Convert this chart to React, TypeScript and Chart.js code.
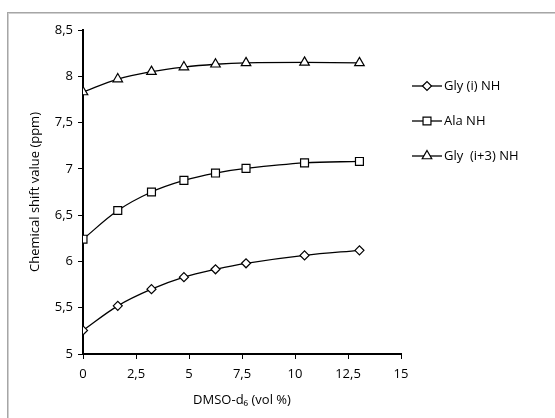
import React, { useEffect, useRef } from "react";
import { Chart, registerables } from "chart.js";
import { drawPoint } from "chart.js/helpers";

Chart.register(...registerables);

const dmsoPercent = [0, 1.64, 3.23, 4.76, 6.25, 7.69, 10.45, 13.04];
const glyINH = [5.255, 5.52, 5.7, 5.83, 5.915, 5.98, 6.065, 6.12];
const alaNH = [6.24, 6.55, 6.75, 6.875, 6.955, 7.005, 7.065, 7.08];
const glyI3NH = [7.83, 7.97, 8.05, 8.1, 8.13, 8.145, 8.15, 8.145];
const seriesLabels = ["Gly (i) NH", "Ala NH", "Gly  (i+3) NH"];
const xTitle = "DMSO-d\u2086 (vol %)";
const yTitle = "Chemical shift value (ppm)";

const FONT = "'Open Sans', 'Noto Sans', sans-serif";
const FS = 13;

const fmt = (v: number | string) => String(v).replace(".", ",");

const legendPlugin = {
  id: "sideLegend",
  afterDraw(chart: any) {
    const ctx = chart.ctx;
    const area = chart.chartArea;
    const x0 = area.right + 11;
    const lineW = 30;
    chart.data.datasets.forEach((ds: any, i: number) => {
      const y = 86 + i * 35;
      ctx.save();
      ctx.strokeStyle = "#000";
      ctx.lineWidth = 1.3;
      ctx.beginPath();
      ctx.moveTo(x0, y);
      ctx.lineTo(x0 + lineW, y);
      ctx.stroke();
      ctx.fillStyle = "#fff";
      ctx.strokeStyle = "#000";
      ctx.lineWidth = 1.2;
      drawPoint(ctx, { pointStyle: ds.pointStyle, radius: ds.pointRadius, borderWidth: 1.2, rotation: 0 }, x0 + lineW / 2, y);
      ctx.fillStyle = "#000";
      ctx.font = `${FS}px ${FONT}`;
      ctx.textAlign = "left";
      ctx.textBaseline = "middle";
      ctx.fillText(ds.label, x0 + lineW + 2, y);
      ctx.restore();
    });
  },
};

export default function App() {
  const ref = useRef<HTMLCanvasElement>(null);
  useEffect(() => {
    if (!ref.current) return;
    const mk = (label: string, ys: number[], style: string, r: number) => ({
      label,
      data: dmsoPercent.map((x, i) => ({ x, y: ys[i] })),
      borderColor: "#000",
      backgroundColor: "#fff",
      borderWidth: 1.3,
      pointStyle: style,
      pointRadius: r,
      pointBorderWidth: 1.2,
      pointBorderColor: "#000",
      pointBackgroundColor: "#fff",
      tension: 0.35,
      fill: false,
    });
    const chart = new Chart(ref.current, {
      type: "line",
      data: {
        datasets: [
          mk(seriesLabels[0], glyINH, "rectRot", 4.5),
          mk(seriesLabels[1], alaNH, "rect", 5.6),
          mk(seriesLabels[2], glyI3NH, "triangle", 5.5),
        ],
      },
      options: {
        animation: false,
        responsive: false,
        layout: { padding: { left: 0, top: 30, right: 154, bottom: 0 } },
        plugins: { legend: { display: false }, tooltip: { enabled: false } },
        scales: {
          x: {
            type: "linear",
            min: 0,
            max: 15,
            afterFit: (s: any) => { s.height = 64; },
            ticks: { stepSize: 2.5, color: "#000", padding: 7, font: { family: FONT, size: FS }, callback: (v: any) => fmt(v), maxRotation: 0 },
            grid: { display: true, drawOnChartArea: false, drawTicks: true, tickLength: 5, color: "#000", lineWidth: 1 },
            border: { display: true, color: "#000", width: 2 },
            title: { display: true, text: xTitle, color: "#000", font: { family: FONT, size: FS }, padding: { top: 0, bottom: 10 } },
          },
          y: {
            type: "linear",
            min: 5,
            max: 8.5,
            afterFit: (s: any) => { s.width = 83; },
            ticks: { stepSize: 0.5, color: "#000", padding: 5, font: { family: FONT, size: FS }, callback: (v: any) => fmt(v) },
            grid: { display: true, drawOnChartArea: false, drawTicks: true, tickLength: 5, color: "#000", lineWidth: 1 },
            border: { display: true, color: "#000", width: 2 },
            title: { display: true, text: yTitle, color: "#000", font: { family: FONT, size: FS }, padding: { top: 27, bottom: 0 } },
          },
        },
      },
      plugins: [legendPlugin],
    } as any);
    return () => chart.destroy();
  }, []);
  return (
    <div style={{ position: "fixed", left: 0, top: 0, width: 555, height: 418, overflow: "hidden", background: "#fff" }}>
      <div style={{ position: "absolute", left: 7, top: 12, width: 600, height: 460, border: "1px solid #a6a6a6", boxShadow: "inset 1px 1px 0 #d0d0d0" }} />
      <canvas ref={ref} width={555} height={418} style={{ position: "absolute", left: 0, top: 0, width: 555, height: 418 }} />
    </div>
  );
}
